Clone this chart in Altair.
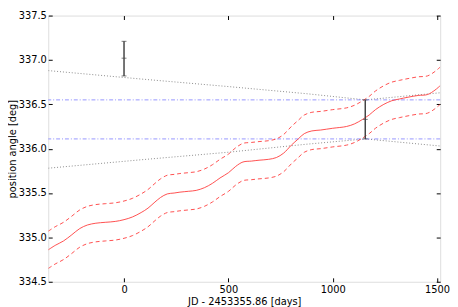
import altair as alt
import pandas as pd

# ---- data ----
jd = [-363, -330, -290, -250, -212, -175, -135, -90, -42, 0, 40, 82, 115, 144, 175, 207,
      240, 268, 310, 346, 385, 424, 460, 501, 535, 570, 610, 647, 693, 730, 765, 802,
      835, 864, 900, 942, 1000, 1066, 1105, 1143, 1175, 1205, 1245, 1283, 1320, 1361,
      1410, 1454, 1490, 1515]
pa_fit = [334.86, 334.91, 334.96, 335.03, 335.10, 335.14, 335.16, 335.17, 335.18, 335.20,
          335.23, 335.28, 335.33, 335.39, 335.45, 335.49, 335.50, 335.51, 335.52, 335.53,
          335.56, 335.61, 335.67, 335.73, 335.80, 335.85, 335.86, 335.87, 335.88, 335.90,
          335.95, 336.04, 336.11, 336.17, 336.20, 336.21, 336.23, 336.25, 336.28, 336.33,
          336.38, 336.44, 336.50, 336.54, 336.56, 336.58, 336.60, 336.61, 336.66, 336.71]
pa_hi = [335.07, 335.12, 335.17, 335.24, 335.31, 335.35, 335.37, 335.38, 335.39, 335.41,
         335.44, 335.49, 335.54, 335.60, 335.66, 335.70, 335.71, 335.72, 335.73, 335.74,
         335.77, 335.82, 335.88, 335.94, 336.01, 336.06, 336.07, 336.08, 336.09, 336.11,
         336.16, 336.25, 336.32, 336.38, 336.41, 336.42, 336.44, 336.46, 336.49, 336.54,
         336.59, 336.65, 336.71, 336.75, 336.77, 336.79, 336.81, 336.82, 336.87, 336.92]
pa_lo = [334.65, 334.70, 334.75, 334.82, 334.89, 334.93, 334.95, 334.96, 334.97, 334.99,
         335.02, 335.07, 335.12, 335.18, 335.24, 335.28, 335.29, 335.30, 335.31, 335.32,
         335.35, 335.40, 335.46, 335.52, 335.59, 335.64, 335.65, 335.66, 335.67, 335.69,
         335.74, 335.83, 335.90, 335.96, 335.99, 336.00, 336.02, 336.04, 336.07, 336.12,
         336.17, 336.23, 336.29, 336.33, 336.35, 336.37, 336.39, 336.40, 336.45, 336.50]

cone_x = [-363, 82, 500, 873, 1156, 1515]
cone_hi = [336.88, 336.785, 336.70, 336.62, 336.55, 336.63]
cone_lo = [335.78, 335.875, 335.96, 336.05, 336.11, 336.03]

band_levels = [336.55, 336.11]

obs_x = [0, 1156]
obs_y = [337.02, 336.33]
obs_lo = [336.82, 336.11]
obs_hi = [337.21, 336.55]

x_ticks = [0, 500, 1000, 1500]
y_ticks = [334.5, 335.0, 335.5, 336.0, 336.5, 337.0, 337.5]
x_dom = [-363, 1515]
y_dom = [334.5, 337.5]

FONT = "DejaVu Sans"

fit_df = pd.DataFrame({"x": jd, "y": pa_fit})
hi_df = pd.DataFrame({"x": jd, "y": pa_hi})
lo_df = pd.DataFrame({"x": jd, "y": pa_lo})
cone_hi_df = pd.DataFrame({"x": cone_x, "y": cone_hi})
cone_lo_df = pd.DataFrame({"x": cone_x, "y": cone_lo})
band_df = pd.DataFrame({"y": band_levels})
obs_df = pd.DataFrame({"x": obs_x, "y": obs_y, "lo": obs_lo, "hi": obs_hi})

common_axis = dict(grid=False, domain=False, offset=-4, tickSize=4, tickColor="#000",
                   tickWidth=1, labelFont=FONT, titleFont=FONT, labelFontSize=10,
                   titleFontSize=10, labelColor="#000", titleColor="#000",
                   titleFontWeight="normal", labelFlush=False)

xs_main = alt.Scale(domain=x_dom, nice=False, zero=False)
ys_main = alt.Scale(domain=y_dom, nice=False, zero=False)

x_axis = alt.Axis(orient="bottom", values=x_ticks, format="d", labelPadding=3,
                  title="JD - 2453355.86 [days]", titlePadding=2, **common_axis)
y_axis = alt.Axis(orient="left", values=y_ticks, format=".1f", labelPadding=2,
                  title="position angle [deg]", titlePadding=1, **common_axis)

X_main = alt.X("x:Q", scale=xs_main, axis=x_axis)
Y_main = alt.Y("y:Q", scale=ys_main, axis=y_axis)

top_axis = dict(grid=False, domain=False, offset=-4, tickSize=4, tickColor="#000",
                tickWidth=1, labels=False, title=None)
X_top = alt.X("x:Q", scale=xs_main, axis=alt.Axis(orient="top", values=x_ticks, **top_axis))
Y_right = alt.Y("y:Q", scale=ys_main, axis=alt.Axis(orient="right", values=y_ticks, **top_axis))

RED = "#ff3b3b"
INTERP = "catmull-rom"

fit = alt.Chart(fit_df).mark_line(color=RED, strokeWidth=1, interpolate=INTERP,
                                  clip=True, opacity=0.9).encode(x=X_main, y=Y_main)
hi = alt.Chart(hi_df).mark_line(color=RED, strokeWidth=1, strokeDash=[4, 3],
                                interpolate=INTERP, clip=True, opacity=0.9).encode(x=X_main, y=Y_main)
lo = alt.Chart(lo_df).mark_line(color=RED, strokeWidth=1, strokeDash=[4, 3],
                                interpolate=INTERP, clip=True, opacity=0.9).encode(x=X_main, y=Y_main)
c_hi = alt.Chart(cone_hi_df).mark_line(color="#8a8a8a", strokeWidth=1, strokeDash=[1, 2],
                                       clip=True).encode(x=X_main, y=Y_main)
c_lo = alt.Chart(cone_lo_df).mark_line(color="#8a8a8a", strokeWidth=1, strokeDash=[1, 2],
                                       clip=True).encode(x=X_main, y=Y_main)
bands = alt.Chart(band_df).mark_rule(color="#7a7aff", strokeWidth=1,
                                     strokeDash=[4, 2, 1, 2], opacity=0.8).encode(y=Y_main)

err = alt.Chart(obs_df).mark_rule(color="#444", strokeWidth=1.5).encode(
    x=X_main, y=alt.Y("lo:Q", scale=ys_main, axis=y_axis), y2="hi:Q")
cap_lo = alt.Chart(obs_df).mark_tick(color="#444", orient="horizontal", size=5, thickness=1).encode(
    x=X_main, y=alt.Y("lo:Q", scale=ys_main, axis=y_axis))
cap_hi = alt.Chart(obs_df).mark_tick(color="#444", orient="horizontal", size=5, thickness=1).encode(
    x=X_main, y=alt.Y("hi:Q", scale=ys_main, axis=y_axis))
center = alt.Chart(obs_df).mark_tick(color="#444", orient="horizontal", size=5, thickness=1).encode(
    x=X_top, y=Y_right)

main = alt.layer(c_hi, c_lo, bands, hi, lo, fit, err, cap_lo, cap_hi)

chart = alt.layer(main, center).resolve_axis(x="independent", y="independent").properties(
    width=399, height=271,
    autosize=alt.AutoSizeParams(type="none"),
    padding={"left": 41, "top": 5, "right": 10, "bottom": 25},
).configure_view(stroke="#000", strokeWidth=1).configure(background="white")

chart.save("out.html", embed_options={"renderer": "svg", "actions": False})
